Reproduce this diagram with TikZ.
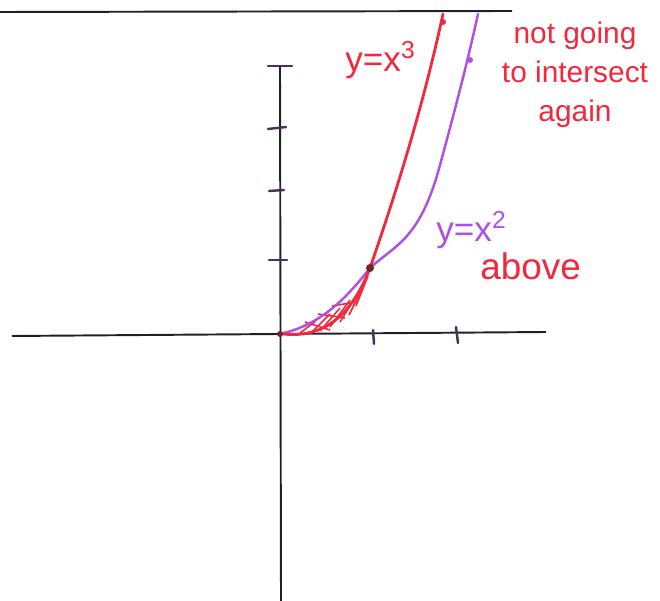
\documentclass[tikz,border=0pt]{standalone}
\usepackage{fontspec}
\setmainfont{Liberation Sans}
\definecolor{penred}{HTML}{F2283C}
\definecolor{penpurple}{HTML}{B050E0}
\definecolor{inkblack}{HTML}{202020}
\begin{document}
\begin{tikzpicture}[x=0.02cm,y=-0.02cm,
  axis/.style={draw=inkblack,line width=1.1pt},
  tickmark/.style={draw=inkblack!70!penpurple,line width=1.4pt,line cap=round},
  redcurve/.style={draw=penred,line width=1.6pt,line cap=round},
  purplecurve/.style={draw=penpurple,line width=1.4pt,line cap=round},
  redlabel/.style={text=penred,inner sep=0pt},
  purplelabel/.style={text=penpurple,inner sep=0pt}]
\useasboundingbox (0,0) rectangle (660,601);
% frame line at top
\coordinate (tl) at (0,12);
\coordinate (tr) at (512,11);
\draw[axis] (tl) -- (tr);
% axes
\coordinate (xl) at (12,336);
\coordinate (xr) at (546,332);
\coordinate (yt) at (280,66);
\coordinate (yb) at (281,601);
\draw[axis] (xl) -- (xr);
\draw[axis] (yt) -- (yb);
% y ticks
\draw[tickmark] (268,66) -- (292,66);
\draw[tickmark] (268,129) -- (286,127);
\draw[tickmark] (269,191) -- (284,190);
\draw[tickmark] (269,260) -- (287,260);
% x ticks
\draw[tickmark] (373,330) -- (374,344);
\draw[tickmark] (456,327) -- (458,343);
% shading between curves
\begin{scope}[draw=penred,line width=0.9pt]
\draw (300,333) -- (316,321);
\draw (310,334) -- (330,314);
\draw (320,331) -- (340,308);
\draw (330,327) -- (350,300);
\draw (340,322) -- (358,293);
\draw (349,315) -- (364,285);
\draw (356,306) -- (368,276);
\draw (305,322) -- (330,330);
\draw (318,314) -- (345,318);
\draw (332,306) -- (356,302);
\end{scope}
% y = x^2 (purple)
\coordinate (o) at (280,334);
\coordinate (p) at (370,268);
\draw[purplecurve] (o) .. controls (320,325) and (345,300) .. (p)
  .. controls (395,245) and (420,240) .. (440,165)
  .. controls (455,110) and (468,60) .. (478,14);
% y = x^3 (red)
\draw[redcurve] (283,334) .. controls (320,338) and (350,320) .. (p)
  .. controls (390,210) and (420,120) .. (443,14);
% dots
\fill[inkblack!60!penred] (p) circle (4);
\fill[penred] (443,22) circle (3);
\fill[penpurple] (470,60) circle (3);
\fill[inkblack!60!penred] (o) circle (3);
% labels
\node[redlabel,font=\fontsize{20}{24}\selectfont,anchor=base west] (l3) at (345,72) {y=x\textsuperscript{3}};
\node[redlabel,font=\fontsize{17}{22}\selectfont,anchor=north,align=center] (note) at (575,22) {not going\\to intersect\\again};
\node[purplelabel,font=\fontsize{20}{24}\selectfont,anchor=base west] (l2) at (436,242) {y=x\textsuperscript{2}};
\node[redlabel,font=\fontsize{21}{24}\selectfont,anchor=base west] (above) at (480,280) {above};
\end{tikzpicture}
\end{document}
